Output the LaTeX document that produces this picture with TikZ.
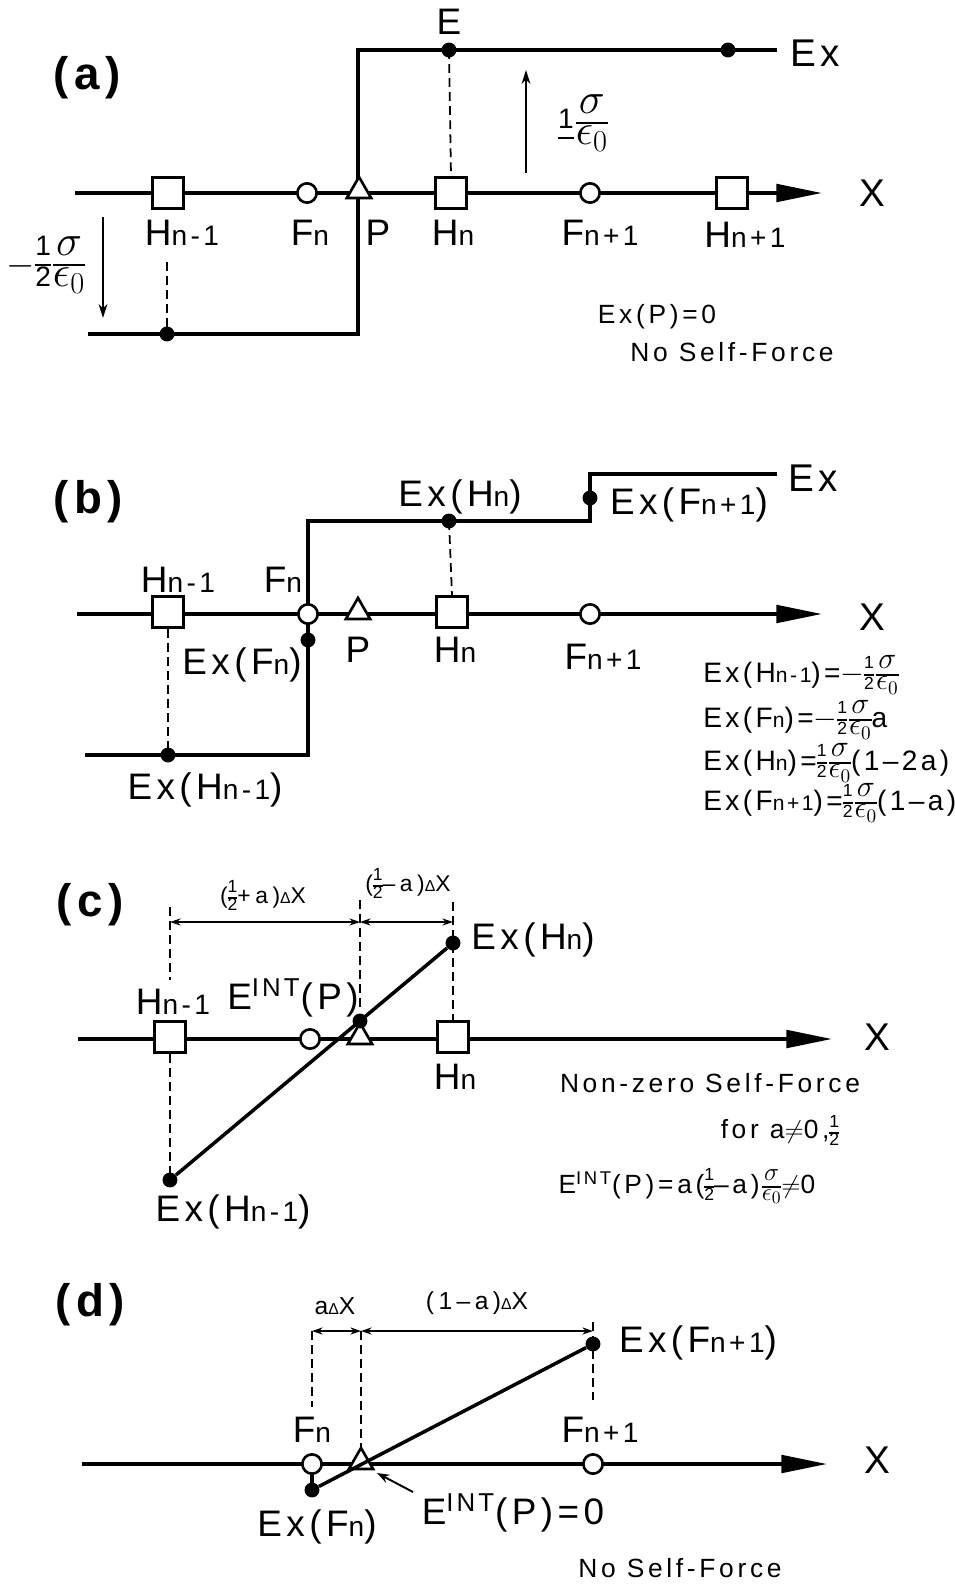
\documentclass[tikz,border=0pt]{standalone}
\usepackage{amsmath}
\usepackage{fontspec}
\setmainfont{Liberation Sans}[LetterSpace=12]
\usetikzlibrary{arrows.meta,shapes.geometric,calc}
\pgfdeclarelayer{bg}
\pgfsetlayers{bg,main}
\newcommand\sbx[2][16]{{\fontsize{#1}{#1}\selectfont #2}}
\newcommand\mfr[3]{{\fontsize{#1}{#1}\selectfont\setlength\arrayrulewidth{0.8pt}\renewcommand\arraystretch{0.72}\begin{tabular}{@{}c@{}}#2\\\hline #3\end{tabular}}}
\newcommand\half[2]{\mfr{#1}{\fontsize{#2}{#2}\selectfont 1}{\fontsize{#2}{#2}\selectfont 2}}
\newcommand\sig[1][20]{\kern1.2pt\mfr{#1}{$\sigma$}{$\epsilon_0$}}
\newcommand\dl{{\fontsize{9}{9}\selectfont Δ}}
\tikzset{
 every node/.style={inner sep=0pt},
 lab/.style={font=\fontsize{21}{23}\selectfont},
 big/.style={font=\fontsize{22}{23}\selectfont},
 panel/.style={font=\bfseries\fontsize{26}{28}\selectfont},
 small/.style={font=\fontsize{15}{17}\selectfont\addfontfeatures{LetterSpace=14}},
 eqn/.style={font=\fontsize{16}{18}\selectfont, anchor=west},
 dimlab/.style={font=\fontsize{13}{14}\selectfont\addfontfeatures{LetterSpace=20}},
 sq/.style={draw, fill=white, line width=1.6pt, minimum size=17.5pt},
 ci/.style={circle, draw, fill=white, line width=1.5pt, minimum size=11pt},
 tri/.style={regular polygon, regular polygon sides=3, draw, fill=white, line width=1.5pt, minimum size=16pt},
 dot/.style={circle, fill=black, minimum size=8.5pt},
 ln/.style={line width=2pt},
 dsh/.style={line width=1pt, dash pattern=on 5pt off 3pt},
 axis/.style={line width=2pt, -{Triangle[length=26pt,width=10pt]}},
 varr/.style={line width=1.1pt, -{Stealth[length=8pt,width=5pt]}},
 dimarr/.style={line width=1.1pt, {Stealth[length=6pt,width=4pt]}-{Stealth[length=6pt,width=4pt]}},
 ptr/.style={line width=1.1pt, -{Stealth[length=7pt,width=5pt]}},
}
\begin{document}
\begin{tikzpicture}[x=0.02cm,y=-0.02cm]
\useasboundingbox (0,0) rectangle (955,1584);
\begin{pgfonlayer}{bg}
\fill[white] (0,0) rectangle (955,1584);
\end{pgfonlayer}

%%%%%%%%%%%%%%%% (a)
\coordinate (a0) at (75,193); \coordinate (a1) at (822,193);
\node[sq] (aH1) at (168,193) {};
\node[ci] (aF1) at (307,193) {};
\node[tri] (aP) at (359,191) {};
\node[sq] (aH2) at (451,193) {};
\node[ci] (aF2) at (590,193) {};
\node[sq] (aH3) at (732,193) {};
\coordinate (as0) at (88,334); \coordinate (as1) at (358,334);
\coordinate (as2) at (358,50); \coordinate (as3) at (777,50);
\node[dot] (aD1) at (167,334) {};
\node[dot] (aE) at (449,50) {};
\node[dot] (aD3) at (728,50) {};
\coordinate (ad0) at (167,262);
\coordinate (av0) at (103,217); \coordinate (av1) at (103,318);
\coordinate (au0) at (526,173); \coordinate (au1) at (526,70);
\begin{pgfonlayer}{bg}
\draw[axis] (a0) -- (a1);
\draw[ln] (as0) -- (as1) -- (as2) -- (as3);
\draw[dsh] (aE.center) -- (aH2.north);
\draw[dsh] (ad0) -- (aD1.center);
\end{pgfonlayer}
\draw[varr] (av0) -- (av1);
\draw[varr] (au0) -- (au1);
\node[panel] (aLa) at (87,78) {(a)};
\node[lab] (aLE) at (449,22) {E};
\node[big] (aLEx) at (815,53) {Ex};
\node[big] (aLX) at (872,193) {X};
\node[lab] (aL1) at (182,233) {H\sbx{n-1}};
\node[lab] (aL2) at (310,233) {F\sbx{n}};
\node[lab] (aL3) at (378,233) {P};
\node[lab] (aL4) at (453,233) {H\sbx{n}};
\node[lab] (aL5) at (600,233) {F\sbx{n+1}};
\node[lab] (aL6) at (745,235) {H\sbx{n+1}};
\node[lab] (aLs1) at (46,265) {$-$\half{24}{16}\sig[24]};
\node[lab] (aLs2) at (583,123) {\mfr{24}{\fontsize{16}{16}\selectfont 1}{}\sig[24]};
\node[small] (aLt1) at (657,317) {Ex(P)=0};
\node[small] (aLt2) at (732,352) {No Self-Force};

%%%%%%%%%%%%%%%% (b)
\coordinate (b0) at (77,614); \coordinate (b1) at (822,614);
\node[sq] (bH1) at (168,612) {};
\node[ci] (bF1) at (308,614) {};
\node[tri] (bP) at (358,612) {};
\node[sq] (bH2) at (452,612) {};
\node[ci] (bF2) at (590,614) {};
\coordinate (bs0) at (85,755); \coordinate (bs1) at (308,755);
\coordinate (bs2) at (308,521); \coordinate (bs3) at (590,521);
\coordinate (bs4) at (590,474); \coordinate (bs5) at (777,474);
\node[dot] (bD1) at (168,755) {};
\node[dot] (bD2) at (449,521) {};
\node[dot] (bD3) at (308,640) {};
\node[dot] (bD4) at (590,498) {};
\begin{pgfonlayer}{bg}
\draw[axis] (b0) -- (b1);
\draw[ln] (bs0) -- (bs1) -- (bs2) -- (bs3) -- (bs4) -- (bs5);
\draw[dsh] (bH1.south) -- (bD1.center);
\draw[dsh] (bD2.center) -- (bH2.north);
\end{pgfonlayer}
\node[panel] (bLa) at (88,502) {(b)};
\node[lab] (bL1) at (178,580) {H\sbx{n-1}};
\node[lab] (bL2) at (283,580) {F\sbx{n}};
\node[lab] (bL3) at (242,665) {Ex(F\sbx{n})};
\node[lab] (bL4) at (358,650) {P};
\node[lab] (bL5) at (455,650) {H\sbx{n}};
\node[lab] (bL6) at (205,790) {Ex(H\sbx{n-1})};
\node[lab] (bL7) at (460,497) {Ex(H\sbx{n})};
\node[lab] (bL8) at (689,505) {Ex(F\sbx{n+1})};
\node[big] (bLEx) at (813,478) {Ex};
\node[big] (bLX) at (872,617) {X};
\node[lab] (bL9) at (603,657) {F\sbx{n+1}};
\node[eqn] (bE1) at (703,675) {Ex(H\sbx[12]{n-1})=$-$\half{16}{10}\sig[16]};
\node[eqn] (bE2) at (703,720) {Ex(F\sbx[12]{n})=$-$\half{16}{10}\sig[16]a};
\node[eqn] (bE3) at (703,763) {Ex(H\sbx[12]{n})=\half{16}{10}\sig[16](1–2a)};
\node[eqn] (bE4) at (703,803) {Ex(F\sbx[12]{n+1})=\half{16}{10}\sig[16](1–a)};

%%%%%%%%%%%%%%%% (c)
\coordinate (c0) at (78,1039); \coordinate (c1) at (832,1039);
\node[sq] (cH1) at (170,1037) {};
\node[ci] (cF1) at (310,1039) {};
\node[tri] (cP) at (360,1037) {};
\node[sq] (cH2) at (453,1037) {};
\node[dot] (cD1) at (170,1180) {};
\node[dot] (cD2) at (453,943) {};
\node[dot] (cDP) at (360,1021) {};
\coordinate (cd1) at (170,907); \coordinate (cd1b) at (170,980);
\coordinate (cd2) at (360,900); \coordinate (cd2b) at (360,1008);
\coordinate (cd3) at (453,902);
\coordinate (cm1) at (170,922); \coordinate (cm2) at (360,922); \coordinate (cm3) at (453,922);
\begin{pgfonlayer}{bg}
\draw[axis] (c0) -- (c1);
\draw[dsh] (cd1) -- (cd1b);
\draw[dsh] (cH1.south) -- (cD1.center);
\draw[dsh] (cd2) -- (cd2b);
\draw[dsh] (cd3) -- (cH2.north);
\end{pgfonlayer}
\draw[ln] (cD1) -- (cD2);
\draw[dimarr] (cm1) -- (cm2);
\draw[dimarr] (cm2) -- (cm3);
\node[panel] (cLa) at (90,905) {(c)};
\node[dimlab] (cLd1) at (263,898) {(\half{12}{10}+a)\dl X};
\node[dimlab] (cLd2) at (408,886) {(\half{12}{10}–a)\dl X};
\node[lab] (cL1) at (173,1002) {H\sbx{n-1}};
\node[lab] (cL2) at (293,998) {E\textsuperscript{INT}(P)};
\node[lab] (cL3) at (533,940) {Ex(H\sbx{n})};
\node[lab] (cL4) at (455,1077) {H\sbx{n}};
\node[lab] (cL5) at (233,1212) {Ex(H\sbx{n-1})};
\node[big] (cLX) at (877,1037) {X};
\node[small] (cT1) at (710,1083) {Non-zero Self-Force};
\node[small] (cT2) at (780,1133) {for a$\neq$0,\half{13}{10}};
\node[small] (cT3) at (687,1187) {E\textsuperscript{INT}(P)=a(\half{14}{10}–a)\sig[14]$\neq$0};

%%%%%%%%%%%%%%%% (d)
\coordinate (d0) at (82,1464); \coordinate (d1) at (827,1464);
\node[ci] (dF1) at (312,1464) {};
\node[tri] (dP) at (361,1462) {};
\node[ci] (dF2) at (593,1464) {};
\node[dot] (dD1) at (312,1490) {};
\node[dot] (dD2) at (593,1344) {};
\coordinate (dd1) at (312,1331); \coordinate (dd1b) at (312,1407);
\coordinate (dd2) at (361,1331); \coordinate (dd2b) at (361,1449);
\coordinate (dd3) at (593,1322); \coordinate (dd3b) at (593,1400);
\coordinate (dm1) at (312,1331); \coordinate (dm2) at (361,1331); \coordinate (dm3) at (593,1331);
\coordinate (dq0) at (413,1492); \coordinate (dq1) at (377,1473);
\begin{pgfonlayer}{bg}
\draw[axis] (d0) -- (d1);
\draw[ln] (dF1) -- (dD1.center);
\draw[dsh] (dd1) -- (dd1b);
\draw[dsh] (dd2) -- (dd2b);
\draw[dsh] (dd3) -- (dd3b);
\end{pgfonlayer}
\draw[ln] (dD1) -- (dD2);
\draw[dimarr] (dm1) -- (dm2);
\draw[dimarr] (dm2) -- (dm3);
\draw[ptr] (dq0) -- (dq1);
\node[panel] (dLa) at (90,1305) {(d)};
\node[dimlab,font=\fontsize{14}{15}\selectfont\addfontfeatures{LetterSpace=18}] (dLd1) at (335,1306) {a\dl X};
\node[dimlab,font=\fontsize{14}{15}\selectfont\addfontfeatures{LetterSpace=18}] (dLd2) at (477,1303) {(1–a)\dl X};
\node[lab] (dL1) at (312,1430) {F\sbx{n}};
\node[lab] (dL2) at (600,1430) {F\sbx{n+1}};
\node[lab] (dL3) at (317,1527) {Ex(F\sbx{n})};
\node[lab] (dL4) at (513,1513) {E\textsuperscript{INT}(P)=0};
\node[lab] (dL5) at (698,1343) {Ex(F\sbx{n+1})};
\node[big] (dLX) at (877,1460) {X};
\node[small] (dT1) at (680,1568) {No Self-Force};
\end{tikzpicture}
\end{document}
